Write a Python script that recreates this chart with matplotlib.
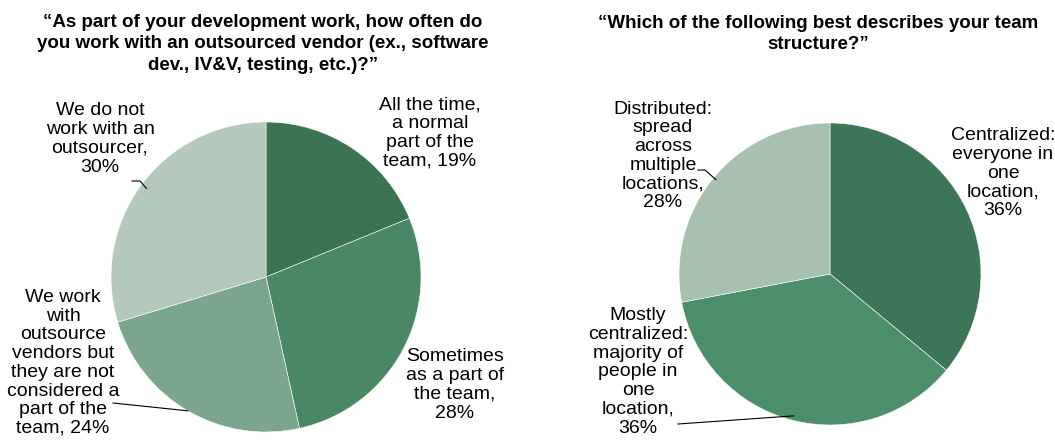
import numpy as np
import matplotlib
matplotlib.use("Agg")
import matplotlib.pyplot as plt

plt.rcParams["font.family"] = ["Liberation Sans", "DejaVu Sans"]

# left pie: outsourced vendor
vendor_labels = [
    "All the time,\na normal\npart of the\nteam, 19%",
    "Sometimes\nas a part of\nthe team,\n28%",
    "We work\nwith\noutsource\nvendors but\nthey are not\nconsidered a\npart of the\nteam, 24%",
    "We do not\nwork with an\noutsourcer,\n30%",
]
vendor_values = [19, 28, 24, 30]
vendor_colors = ["#3b7353", "#4a8764", "#7ba58d", "#b4c9bb"]

# right pie: team structure
team_labels = [
    "Centralized:\neveryone in\none\nlocation,\n36%",
    "Mostly\ncentralized:\nmajority of\npeople in\none\nlocation,\n36%",
    "Distributed:\nspread\nacross\nmultiple\nlocations,\n28%",
]
team_values = [36, 36, 28]
team_colors = ["#3d7656", "#4b8f6a", "#a8c0b0"]

W, H = 1055, 448
fig = plt.figure(figsize=(W / 100, H / 100), dpi=100)


def pie_axes(cx, cy, r):
    ax = fig.add_axes([(cx - r) / W, (H - cy - r) / H, 2 * r / W, 2 * r / H])
    ax.axis("off")
    return ax


def px2data(px, py, cx, cy, r):
    return (px - cx) / r, (cy - py) / r


def draw(ax, values, colors, labels, label_px, leaders, cx, cy, r):
    wedges, _ = ax.pie(values, colors=colors, startangle=90, counterclock=False,
                       radius=1, wedgeprops=dict(edgecolor="white", linewidth=0.4))
    ax.set_xlim(-1, 1)
    ax.set_ylim(-1, 1)
    ax.set_aspect("equal")
    for lab, (px, py) in zip(labels, label_px):
        x, y = px2data(px, py, cx, cy, r)
        ax.text(x, y, lab, ha="center", va="center", fontsize=14,
                linespacing=1.13, clip_on=False)
    # leader lines: start at the label, optional short horizontal run, end in the wedge
    for i, (px, py, run, rr) in leaders.items():
        w = wedges[i]
        mid = np.deg2rad((w.theta1 + w.theta2) / 2)
        x0, y0 = px2data(px, py, cx, cy, r)
        ax.plot([x0, x0 + run / r, rr * np.cos(mid)], [y0, y0, rr * np.sin(mid)],
                color="black", lw=0.8, clip_on=False)


# left
cx, cy, r = 266, 277, 155
ax1 = pie_axes(cx, cy, r)
draw(ax1, vendor_values, vendor_colors, vendor_labels,
     [(430, 133), (455, 385), (63, 363), (100, 139)],
     {2: (113, 403, 0, 1.0), 3: (132, 181, 8, 0.96)}, cx, cy, r)

# right
cx, cy, r = 830, 274, 151
ax2 = pie_axes(cx, cy, r)
draw(ax2, team_values, team_colors, team_labels,
     [(1003, 173), (638, 372), (663, 156)],
     {1: (678, 424, 0, 0.97), 2: (698, 170, 7, 0.98)}, cx, cy, r)

fig.text(263 / W, 1 - 44 / H,
         "\u201cAs part of your development work, how often do\n"
         "you work with an outsourced vendor (ex., software\n"
         "dev., IV&V, testing, etc.)?\u201d",
         ha="center", va="center", fontsize=13.5, fontweight="bold", linespacing=1.38)
fig.text(818 / W, 1 - 34 / H,
         "\u201cWhich of the following best describes your team\nstructure?\u201d",
         ha="center", va="center", fontsize=13.5, fontweight="bold", linespacing=1.38)

fig.savefig("out.png", dpi=100)
